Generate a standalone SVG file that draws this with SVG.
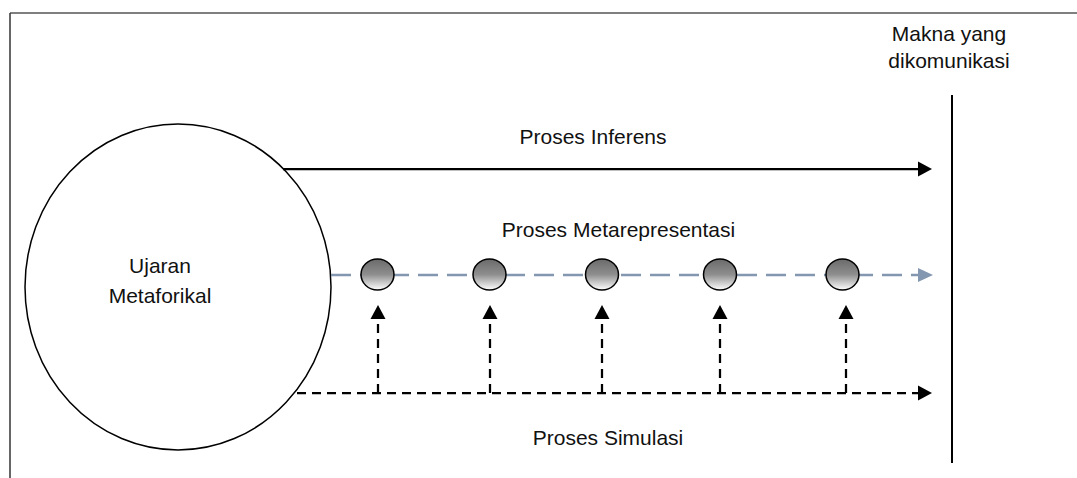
<svg xmlns="http://www.w3.org/2000/svg" width="1077" height="478" viewBox="0 0 1077 478">
  <style>
    .lbl { font-family: "Liberation Sans", Arial, sans-serif; font-size: 21px; fill: #111; text-anchor: middle; }
    .solid { stroke: #000; stroke-width: 2.25; fill: none; }
    .dash { stroke: #000; stroke-width: 2.25; fill: none; stroke-dasharray: 9 6; }
    .meta { stroke: #8497B0; stroke-width: 2.5; fill: none; stroke-dasharray: 20 9; }
    .bead { fill: url(#beadFill); stroke: #000; stroke-width: 1.5; }
  </style>
  <defs>
    <linearGradient id="beadFill" x1="0" y1="0" x2="0" y2="1">
      <stop offset="0" stop-color="#6a6a6a"/>
      <stop offset="0.5" stop-color="#8e8e8e"/>
      <stop offset="1" stop-color="#ffffff"/>
    </linearGradient>
    <marker id="headBlack" markerUnits="userSpaceOnUse" markerWidth="15" markerHeight="16" refX="0" refY="7.5" orient="auto" overflow="visible">
      <path d="M0,0 L14,7.5 L0,15 Z" fill="#000"/>
    </marker>
    <marker id="headBlue" markerUnits="userSpaceOnUse" markerWidth="15" markerHeight="16" refX="0" refY="7" orient="auto" overflow="visible">
      <path d="M0,0 L15,7 L0,14 Z" fill="#8497B0"/>
    </marker>
  </defs>

  <!-- frame edges -->
  <g id="frame">
    <line x1="10" y1="13" x2="1077" y2="13" stroke="#555" stroke-width="1.5"/>
    <line x1="10" y1="13" x2="10" y2="478" stroke="#333" stroke-width="1.5"/>
  </g>

  <!-- source utterance -->
  <g id="ujaran">
    <ellipse cx="178" cy="287" rx="153" ry="163" fill="#fff" stroke="#000" stroke-width="1.5"/>
    <text class="lbl" x="160" y="273">Ujaran</text>
    <text class="lbl" x="160" y="303">Metaforikal</text>
  </g>

  <!-- communicated meaning boundary -->
  <g id="makna">
    <line x1="952" y1="95" x2="952" y2="463" stroke="#000" stroke-width="2"/>
    <text class="lbl" x="949" y="41">Makna yang</text>
    <text class="lbl" x="949" y="68">dikomunikasi</text>
  </g>

  <!-- connectors -->
  <g id="connectors">
    <line class="solid" x1="283" y1="169" x2="918" y2="169" marker-end="url(#headBlack)"/>
    <line class="meta" x1="331" y1="275" x2="918" y2="275" marker-end="url(#headBlue)"/>
    <line class="dash" x1="297" y1="393" x2="918" y2="393" marker-end="url(#headBlack)"/>
    <line class="dash" x1="378" y1="393" x2="378" y2="319" marker-end="url(#headBlack)"/>
    <line class="dash" x1="490" y1="393" x2="490" y2="319" marker-end="url(#headBlack)"/>
    <line class="dash" x1="602" y1="393" x2="602" y2="319" marker-end="url(#headBlack)"/>
    <line class="dash" x1="720" y1="393" x2="720" y2="319" marker-end="url(#headBlack)"/>
    <line class="dash" x1="846" y1="393" x2="846" y2="319" marker-end="url(#headBlack)"/>
  </g>

  <!-- metarepresentation stages -->
  <g id="bead1"><ellipse class="bead" cx="377.5" cy="274.5" rx="16.5" ry="15.5"/></g>
  <g id="bead2"><ellipse class="bead" cx="489.5" cy="274.5" rx="16.5" ry="15.5"/></g>
  <g id="bead3"><ellipse class="bead" cx="602" cy="274.5" rx="16.5" ry="15.5"/></g>
  <g id="bead4"><ellipse class="bead" cx="720" cy="274.5" rx="16.5" ry="15.5"/></g>
  <g id="bead5"><ellipse class="bead" cx="842.5" cy="274.5" rx="16.5" ry="15.5"/></g>

  <!-- process labels -->
  <g id="labels">
    <text class="lbl" x="593" y="144">Proses Inferens</text>
    <text class="lbl" x="618.5" y="237">Proses Metarepresentasi</text>
    <text class="lbl" x="608" y="445">Proses Simulasi</text>
  </g>
</svg>
